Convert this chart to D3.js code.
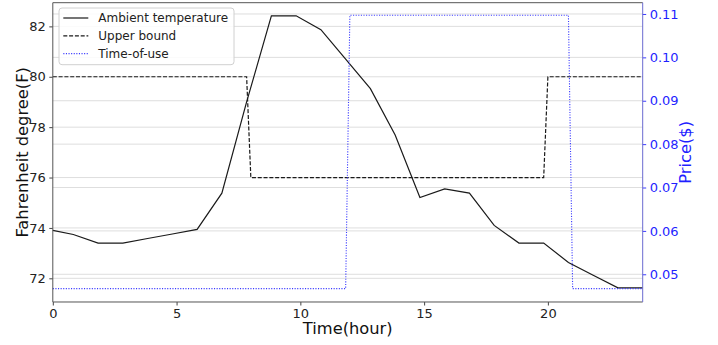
<!DOCTYPE html>
<html>
<head>
<meta charset="utf-8">
<script src="https://cdn.jsdelivr.net/npm/d3@7"></script>
<style>
  body { margin: 0; background: #fff; }
  svg { display: block; font-family: "DejaVu Sans", sans-serif; }
</style>
</head>
<body>
<div id="chart-area"></div>
<script>
// hours at which each series was sampled
const hours = [0, 0.83, 1.83, 2.83, 3.83, 4.83, 5.83, 6.83, 7.83, 8.83, 9.83, 10.83,
  11.83, 12.83, 13.83, 14.83, 15.83, 16.83, 17.83, 18.83, 19.83, 20.83, 21.83, 22.83, 23.83];
const ambient = [73.90, 73.74, 73.40, 73.40, 73.58, 73.76, 73.94, 75.38, 79.0, 82.42, 82.42, 81.87,
  80.7, 79.53, 77.69, 75.21, 75.55, 75.38, 74.10, 73.40, 73.40, 72.63, 72.12, 71.62, 71.62];

const boundHours = [0, 7.83, 8.0, 19.83, 20.0, 23.83];
const upperBound = [80, 80, 76, 76, 80, 80];

const touHours = [0, 11.83, 12.0, 20.83, 21.0, 23.83];
const touPrice = [0.0467, 0.0467, 0.1097, 0.1097, 0.0467, 0.0467];

const xTicks = [0, 5, 10, 15, 20];
const tempTicks = [72, 74, 76, 78, 80, 82];
const priceTicks = [0.05, 0.06, 0.07, 0.08, 0.09, 0.10, 0.11];

const legendLabels = ['Ambient temperature', 'Upper bound', 'Time-of-use'];

const W = 718, H = 345;
const margin = { top: 2.7, right: 75.3, bottom: 43, left: 52.8 };
const width = W - margin.left - margin.right;
const height = H - margin.top - margin.bottom;

const svg = d3.select('#chart-area')
  .append('svg')
  .attr('width', W)
  .attr('height', H);

const g = svg.append('g')
  .attr('transform', `translate(${margin.left}, ${margin.top})`);

const x = d3.scaleLinear().domain([0, 23.83]).range([0, width]);
const yT = d3.scaleLinear().domain([71.06, 82.94]).range([height, 0]);
const yP = d3.scaleLinear().domain([0.04361, 0.1126]).range([height, 0]);

// grid lines from both axes
g.append('g').selectAll('line')
  .data(tempTicks.map(yT).concat(priceTicks.map(yP)))
  .join('line')
  .attr('x1', 0).attr('x2', width)
  .attr('y1', d => d).attr('y2', d => d)
  .attr('stroke', '#dedede')
  .attr('stroke-width', 1);

const temps = hours.map((h, i) => [h, ambient[i]]);
const bound = boundHours.map((h, i) => [h, upperBound[i]]);
const tou = touHours.map((h, i) => [h, touPrice[i]]);

const lineT = d3.line().x(d => x(d[0])).y(d => yT(d[1]));
const lineP = d3.line().x(d => x(d[0])).y(d => yP(d[1]));

g.append('path')
  .datum(temps)
  .attr('d', lineT)
  .attr('fill', 'none')
  .attr('stroke', '#1a1a1a')
  .attr('stroke-width', 1.2);

g.append('path')
  .datum(bound)
  .attr('d', lineT)
  .attr('fill', 'none')
  .attr('stroke', '#1a1a1a')
  .attr('stroke-width', 1.2)
  .attr('stroke-dasharray', '4,1.8');

g.append('path')
  .datum(tou)
  .attr('d', lineP)
  .attr('fill', 'none')
  .attr('stroke', '#3a3aff')
  .attr('stroke-width', 1.1)
  .attr('stroke-dasharray', '1.1,1.5');

// axes
const xAxis = g.append('g')
  .attr('transform', `translate(0, ${height})`)
  .call(d3.axisBottom(x).tickValues(xTicks).tickSize(3.5).tickPadding(3.5));

const yAxis = g.append('g')
  .call(d3.axisLeft(yT).tickValues(tempTicks).tickSize(3.5).tickPadding(3.5));

const pAxis = g.append('g')
  .attr('transform', `translate(${width}, 0)`)
  .call(d3.axisRight(yP).tickValues(priceTicks).tickFormat(d3.format('.2f')).tickSize(3.5).tickPadding(3.5));

[xAxis, yAxis, pAxis].forEach(a => {
  a.select('.domain').remove();
  a.selectAll('text').attr('font-size', '13px').attr('font-family', 'DejaVu Sans');
});
xAxis.selectAll('line').attr('stroke', '#444');
yAxis.selectAll('line').attr('stroke', '#444');
xAxis.selectAll('text').attr('fill', '#222');
yAxis.selectAll('text').attr('fill', '#222');
pAxis.selectAll('line').attr('stroke', '#3a3aff');
pAxis.selectAll('text').attr('fill', '#1f1fff');

// spines
g.append('line').attr('x1', 0).attr('x2', width).attr('y1', 0).attr('y2', 0)
  .attr('stroke', '#555').attr('stroke-width', 1);
g.append('line').attr('x1', 0).attr('x2', width).attr('y1', height).attr('y2', height)
  .attr('stroke', '#555').attr('stroke-width', 1);
g.append('line').attr('x1', 0).attr('x2', 0).attr('y1', 0).attr('y2', height)
  .attr('stroke', '#555').attr('stroke-width', 1);
g.append('line').attr('x1', width).attr('x2', width).attr('y1', 0).attr('y2', height)
  .attr('stroke', '#6a6ad0').attr('stroke-width', 1);

// axis labels
g.append('text')
  .attr('x', width / 2)
  .attr('y', height + 32)
  .attr('text-anchor', 'middle')
  .attr('font-size', '16.3px')
  .attr('fill', '#111')
  .text('Time(hour)');

g.append('text')
  .attr('transform', `translate(${-25}, ${height / 2}) rotate(-90)`)
  .attr('text-anchor', 'middle')
  .attr('font-size', '16.3px')
  .attr('fill', '#111')
  .text('Fahrenheit degree(F)');

g.append('text')
  .attr('transform', `translate(${width + 48}, ${height / 2}) rotate(-90)`)
  .attr('text-anchor', 'middle')
  .attr('font-size', '16.3px')
  .attr('fill', '#1f1fff')
  .text('Price($)');

// legend
const legend = g.append('g').attr('transform', 'translate(6.2, 5.3)');
legend.append('rect')
  .attr('width', 175).attr('height', 56.7)
  .attr('rx', 3)
  .attr('fill', 'white').attr('fill-opacity', 0.85)
  .attr('stroke', '#d0d0d0');

const legendStyles = [
  { stroke: '#1a1a1a', dash: null },
  { stroke: '#1a1a1a', dash: '4,1.8' },
  { stroke: '#3a3aff', dash: '1.1,1.5' }
];

legendLabels.forEach((label, i) => {
  const row = legend.append('g').attr('transform', `translate(0, ${10 + i * 17.8})`);
  row.append('line')
    .attr('x1', 4.3).attr('x2', 29.3)
    .attr('stroke', legendStyles[i].stroke)
    .attr('stroke-width', 1.2)
    .attr('stroke-dasharray', legendStyles[i].dash);
  row.append('text')
    .attr('x', 39.3).attr('y', 4.3)
    .attr('font-size', '12px')
    .attr('fill', '#222')
    .text(label);
});
</script>
</body>
</html>
